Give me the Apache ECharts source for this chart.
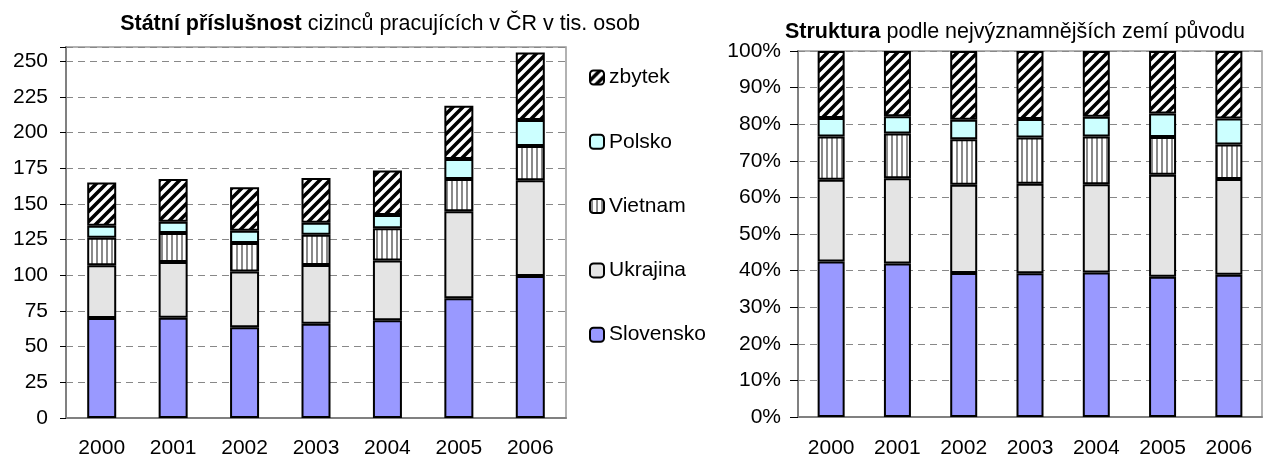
<!DOCTYPE html>
<html>
<head>
<meta charset="utf-8">
<script src="https://cdn.jsdelivr.net/npm/echarts@6/dist/echarts.min.js"></script>
<style>
html, body { margin: 0; padding: 0; background: #fff; }
#main { width: 1263px; height: 459px; }
</style>
</head>
<body>
<div id="main"></div>
<script>
var years = ['2000', '2001', '2002', '2003', '2004', '2005', '2006'];

// tis. osob
var slovensko = [70.1, 70.3, 63.6, 66.1, 68.5, 83.9, 99.5];
var ukrajina = [36.9, 39.0, 39.0, 41.1, 41.8, 61.0, 67.1];
var vietnam = [19.4, 20.4, 20.1, 21.3, 22.6, 22.6, 24.1];
var polsko = [8.4, 7.9, 8.6, 8.4, 9.4, 14.0, 18.2];
var zbytek = [30.2, 29.9, 30.4, 31.3, 31.1, 37.4, 47.2];

var leftTicks = [0, 25, 50, 75, 100, 125, 150, 175, 200, 225, 250];

var font = 'Liberation Sans, Arial, sans-serif';

function makeCanvas(w, h, draw) {
	var c = document.createElement('canvas');
	c.width = w;
	c.height = h;
	draw(c.getContext('2d'));
	return c;
}

// sikme srafovani
var diagCanvas = makeCanvas(10, 10, function (ctx) {
	ctx.fillStyle = '#fff';
	ctx.fillRect(0, 0, 10, 10);
	ctx.strokeStyle = '#000';
	ctx.lineWidth = 3.6;
	ctx.beginPath();
	ctx.moveTo(-2, 2); ctx.lineTo(2, -2);
	ctx.moveTo(0, 10); ctx.lineTo(10, 0);
	ctx.moveTo(8, 12); ctx.lineTo(12, 8);
	ctx.stroke();
});

// svisle prouzky
var vertCanvas = makeCanvas(5, 4, function (ctx) {
	ctx.fillStyle = '#fff';
	ctx.fillRect(0, 0, 5, 4);
	ctx.fillStyle = '#8a8a8a';
	ctx.fillRect(1, 0, 2, 4);
});

var colors = {
	Slovensko: '#9999ff',
	Ukrajina: '#e4e4e4',
	Vietnam: { image: vertCanvas, repeat: 'repeat' },
	Polsko: '#ccffff',
	zbytek: { image: diagCanvas, repeat: 'repeat' }
};

var names = ['Slovensko', 'Ukrajina', 'Vietnam', 'Polsko', 'zbytek'];
var values = [slovensko, ukrajina, vietnam, polsko, zbytek];

var totals = years.map(function (y, i) {
	var s = 0;
	values.forEach(function (v) { s += v[i]; });
	return s;
});

var series = [];
names.forEach(function (name, k) {
	var style = { color: colors[name], borderColor: '#000', borderWidth: 2 };
	series.push({
		name: name,
		type: 'bar',
		stack: 'abs',
		xAxisIndex: 0,
		yAxisIndex: 0,
		barWidth: 29,
		itemStyle: style,
		data: values[k]
	});
	series.push({
		name: name,
		type: 'bar',
		stack: 'pct',
		xAxisIndex: 1,
		yAxisIndex: 1,
		barWidth: 27,
		itemStyle: style,
		data: values[k].map(function (v, i) { return v / totals[i] * 100; })
	});
});

var fs = 21;
var axisLabelStyle = { color: '#000', fontSize: fs, fontFamily: font };
var gridLine = { show: true, lineStyle: { color: '#888', type: [7, 5], width: 1 } };

function titleStyle() {
	return {
		fontSize: 21.5, fontWeight: 'normal', color: '#000', fontFamily: font,
		rich: { b: { fontSize: 21.5, fontWeight: 'bold', color: '#000', fontFamily: font } }
	};
}

var myChart = echarts.init(document.getElementById('main'));

var option = {
	animation: false,
	textStyle: { fontFamily: font },
	title: [{
		text: '{b|Státní příslušnost} cizinců pracujících v ČR v tis. osob',
		left: 380,
		top: 13,
		padding: 0,
		textAlign: 'center',
		textStyle: titleStyle()
	}, {
		text: '{b|Struktura} podle nejvýznamnějších zemí původu',
		left: 1015,
		top: 21,
		padding: 0,
		textAlign: 'center',
		textStyle: titleStyle()
	}],
	legend: {
		orient: 'vertical',
		left: 589,
		top: 67,
		padding: 0,
		itemWidth: 14,
		itemHeight: 14,
		itemGap: 43.3,
		data: ['zbytek', 'Polsko', 'Vietnam', 'Ukrajina', 'Slovensko'],
		textStyle: { fontSize: fs, color: '#000', fontFamily: font, padding: [0, 0, 0, 0] }
	},
	grid: [
		{ left: 66, top: 47, width: 500, height: 371, show: true, borderColor: '#999', borderWidth: 1.5 },
		{ left: 798, top: 51, width: 464, height: 371, show: true, borderColor: '#999', borderWidth: 1.5 }
	],
	xAxis: [{
		type: 'category', gridIndex: 0, data: years,
		axisLine: { lineStyle: { color: '#808080', width: 2 } },
		axisTick: { show: false },
		axisLabel: Object.assign({ margin: 20 }, axisLabelStyle)
	}, {
		type: 'category', gridIndex: 1, data: years,
		axisLine: { lineStyle: { color: '#808080', width: 2 } },
		axisTick: { show: false },
		axisLabel: Object.assign({ margin: 21 }, axisLabelStyle)
	}],
	yAxis: [{
		type: 'value', gridIndex: 0, min: 0, max: 260, interval: 25,
		axisLine: { show: true, lineStyle: { color: '#808080', width: 2 } },
		axisTick: { show: true, length: 6, lineStyle: { color: '#000' } },
		splitLine: gridLine,
		axisLabel: Object.assign({
			margin: 18,
			formatter: function (v) { return leftTicks.indexOf(v) >= 0 ? String(v) : ''; }
		}, axisLabelStyle)
	}, {
		type: 'value', gridIndex: 1, min: 0, max: 100, interval: 10,
		axisLine: { show: true, lineStyle: { color: '#808080', width: 2 } },
		axisTick: { show: true, length: 8, lineStyle: { color: '#000' } },
		splitLine: gridLine,
		axisLabel: Object.assign({ margin: 17, formatter: '{value}%' }, axisLabelStyle)
	}],
	series: series
};

myChart.setOption(option);
</script>
</body>
</html>
